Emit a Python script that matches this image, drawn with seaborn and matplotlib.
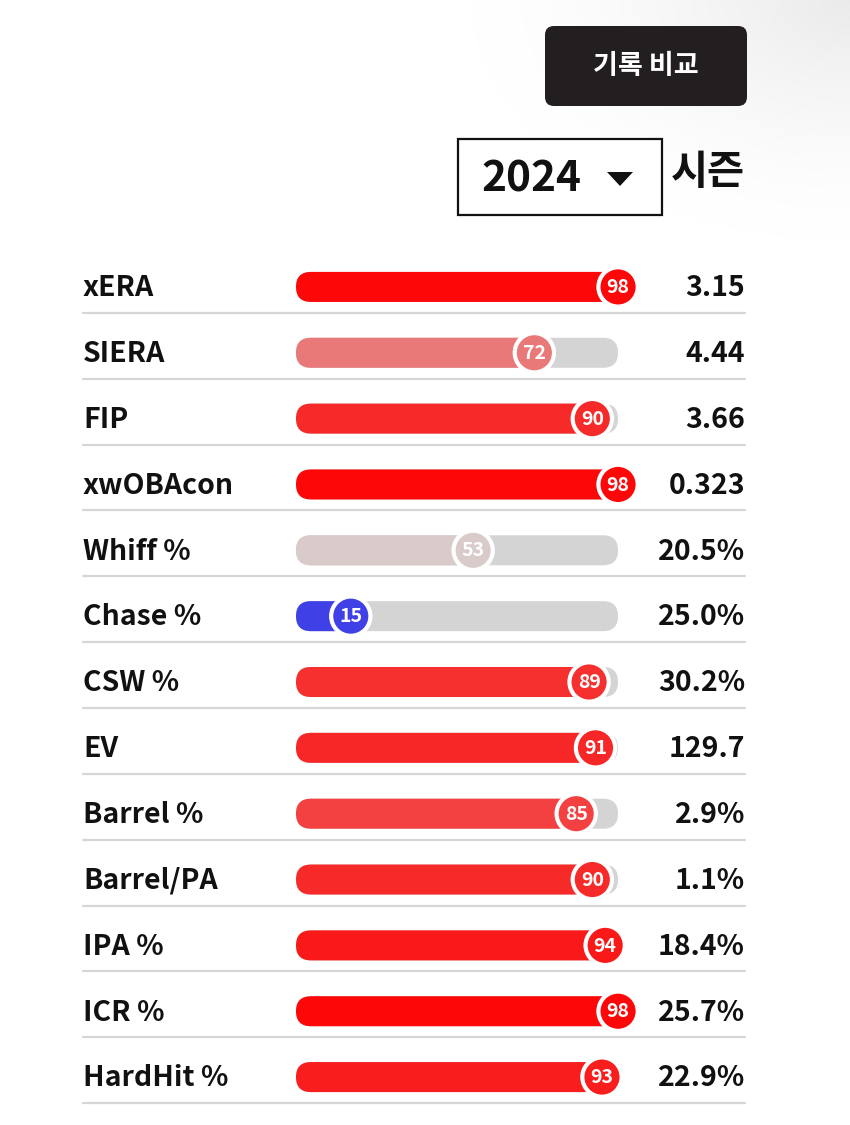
import numpy as np
import matplotlib
matplotlib.use("Agg")
import matplotlib.pyplot as plt
import matplotlib.transforms as mtransforms
from matplotlib.patches import FancyBboxPatch, Polygon
from matplotlib.colors import LinearSegmentedColormap
import seaborn as sns

# ---------------- data ----------------
metrics = ["xERA", "SIERA", "FIP", "xwOBAcon", "Whiff %", "Chase %", "CSW %",
           "EV", "Barrel %", "Barrel/PA", "IPA %", "ICR %", "HardHit %"]
percentiles = [98, 72, 90, 98, 53, 15, 89, 91, 85, 90, 94, 98, 93]
stat_values = ["3.15", "4.44", "3.66", "0.323", "20.5%", "25.0%", "30.2%",
               "129.7", "2.9%", "1.1%", "18.4%", "25.7%", "22.9%"]
season = "2024"
button_text = "기록 비교"
season_label = "시즌"

# ---------------- style ----------------
sns.set_theme(style="white")
plt.rcParams["font.family"] = ["Noto Sans CJK KR", "DejaVu Sans"]

W, H = 850, 1125
fig = plt.figure(figsize=(W / 100, H / 100), dpi=100)
fig.patch.set_facecolor("white")

# background / overlay axes in pixel coordinates
bg = fig.add_axes([0, 0, 1, 1], zorder=0)
bg.set_xlim(0, W)
bg.set_ylim(H, 0)
bg.axis("off")

# subtle shading top-right
yy, xx = np.mgrid[0:300, 0:W]
d = np.sqrt(((xx - W) / 380.0) ** 2 + ((yy - 0) / 240.0) ** 2)
shade = np.clip(1 - d, 0, 1) ** 1.5 * 0.08
img = np.ones((300, W, 3)) * (1 - shade)[..., None]
bg.imshow(img, extent=(0, W, 300, 0), aspect="auto", zorder=0)

# header button
bg.add_patch(FancyBboxPatch((545, 26), 202, 80,
                            boxstyle="round,pad=0,rounding_size=9",
                            facecolor="#231f20", edgecolor="none", zorder=2))
bg.text(646, 66, button_text, color="white", fontsize=19.5, fontweight="bold",
        ha="center", va="center", zorder=3)

# season dropdown
bg.add_patch(FancyBboxPatch((458, 139), 204, 76, boxstyle="square,pad=0",
                            facecolor="white", edgecolor="#111111",
                            linewidth=1.6, zorder=2))
bg.text(481, 180, season, color="#111111", fontsize=30.5, fontweight="bold",
        ha="left", va="center", zorder=3)
bg.add_patch(Polygon([[607, 172], [633, 172], [620, 186]], closed=True,
                     facecolor="#111111", edgecolor="none", zorder=3))
bg.text(671, 172, season_label, color="#111111", fontsize=29,
        fontweight="bold", ha="left", va="center", zorder=3)

# ---------------- bars ----------------
x0, x1 = 296, 618
ytop, ybot = 254, 1110
ax = fig.add_axes([x0 / W, 1 - ybot / H, (x1 - x0) / W, (ybot - ytop) / H],
                  zorder=2)
ax.patch.set_alpha(0)

cmap = LinearSegmentedColormap.from_list(
    "pct", [(0.0, "#0000ee"), (0.5, "#d8d8d8"), (1.0, "#ff0000")])
colors = [cmap(p / 100) for p in percentiles]

bar_h = 0.456
sns.barplot(x=[100] * len(metrics), y=metrics, color="#d4d4d4", orient="h",
            width=bar_h, saturation=1, ax=ax)
n_track = len(ax.patches)
sns.barplot(x=percentiles, y=metrics, hue=metrics, palette=colors,
            orient="h", width=bar_h, saturation=1, legend=False, ax=ax)

ax.set_xlim(0, 100)
ax.set_ylim(len(metrics) - 0.5, -0.5)

# replace rectangles with rounded bars
px_per_x = (x1 - x0) / 100.0
px_per_y = (ybot - ytop) / len(metrics)
r_px = 15
r_x = r_px / px_per_x
aspect = (r_px / px_per_y) / r_x
rects = list(ax.patches)
for i, p in enumerate(rects):
    x, y = p.get_x(), p.get_y()
    w, h = p.get_width(), p.get_height()
    fc = p.get_facecolor()
    p.remove()
    ext = 0 if i < n_track else 6.5 / px_per_x
    ax.add_patch(FancyBboxPatch((x, y), w + ext, h,
                                boxstyle=f"round,pad=0,rounding_size={r_x}",
                                mutation_aspect=aspect, facecolor=fc,
                                edgecolor="none",
                                zorder=1 if i < n_track else 2,
                                clip_on=False))

# circle badges, shifted a few pixels right as in the reference
shift = mtransforms.ScaledTranslation(6.5 / 100, 0, fig.dpi_scale_trans)
ypos = np.arange(len(metrics))
ax.scatter(percentiles, ypos, s=800, c=colors, edgecolors="white",
           linewidths=3, zorder=5, clip_on=False,
           transform=ax.transData + shift)
for i, p in enumerate(percentiles):
    ax.text(p, i + 0.01, str(p), color="white", fontsize=14,
            fontweight="bold", ha="center", va="center", zorder=6,
            transform=ax.transData + shift)

ax.axis("off")

# labels, values and separators
tr = mtransforms.blended_transform_factory(fig.transFigure, ax.transData)
for i, (m, v) in enumerate(zip(metrics, stat_values)):
    fig.text(83 / W, i + 0.02, m, transform=tr, fontsize=20.5,
             fontweight="bold", color="#111111", ha="left", va="center")
    fig.text(745 / W, i + 0.02, v, transform=tr, fontsize=20.5,
             fontweight="bold", color="#111111", ha="right", va="center")
    fig.add_artist(plt.Line2D([83 / W, 745 / W], [i + 0.395, i + 0.395],
                              transform=tr, color="#d6d6d6", linewidth=1.6))

fig.savefig("out.png", dpi=100, facecolor="white")
